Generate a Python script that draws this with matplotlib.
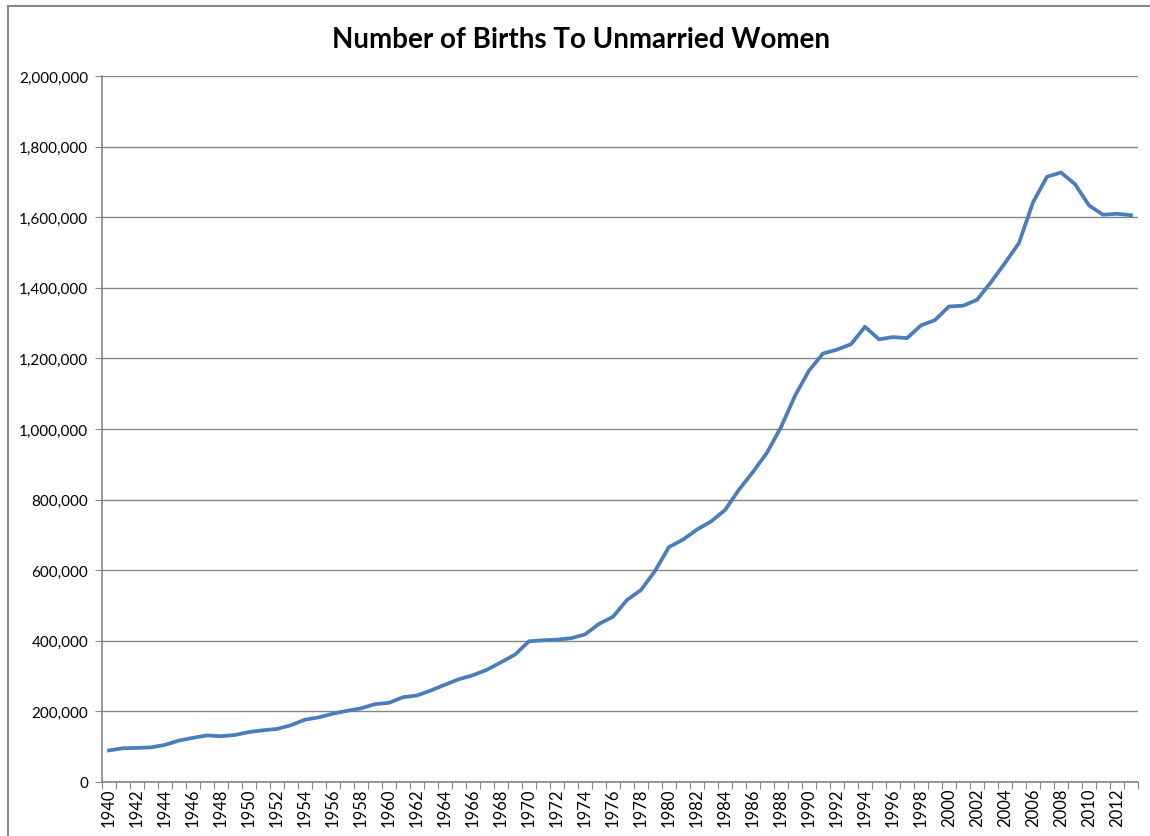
import matplotlib
matplotlib.use("Agg")
import matplotlib.pyplot as plt
from matplotlib.lines import Line2D
from matplotlib.ticker import FuncFormatter, FixedLocator

plt.rcParams["font.family"] = ["Lato", "DejaVu Sans"]

# Births to unmarried women, 1940-2013
years = list(range(1940, 2014))
births = [
    89500, 95700, 96500, 98100, 105200, 117400, 125200, 131900, 129700, 133200,
    141600, 146500, 150300, 160800, 176600, 183300, 193500, 201700, 208700, 220600,
    224300, 240200, 245100, 259400, 275700, 291200, 302400, 318100, 339200, 360800,
    398700, 401400, 403200, 407300, 418100, 447900, 468100, 515700, 543900, 597800,
    665747, 686605, 715227, 737893, 770355, 828174, 878477, 933013, 1005299, 1094169,
    1165384, 1213769, 1224876, 1240172, 1289592, 1253976, 1260306, 1257444, 1293567, 1308560,
    1347043, 1349249, 1365966, 1415995, 1470189, 1527034, 1641946, 1714643, 1726566, 1693658,
    1633471, 1606951, 1609619, 1605643,
]
year_labels = [str(y) if y % 2 == 0 else "" for y in years]

W, H = 1150, 837
fig = plt.figure(figsize=(W / 100, H / 100), dpi=100)
fig.patch.set_facecolor("white")

# chart area border (only top and left edges show in the crop)
bx, by = 7.5 / W, 1 - 6.5 / H
fig.lines.append(Line2D([bx, bx], [0, by], transform=fig.transFigure,
                        color="#868686", linewidth=1.5))
fig.lines.append(Line2D([bx, 1], [by, by], transform=fig.transFigure,
                        color="#868686", linewidth=1.5))

ax = fig.add_axes([102 / W, 1 - 783 / H, (1138 - 102) / W, (783 - 77) / H])

x = list(range(len(years)))
ax.plot(x, births, color="#4A7EBB", linewidth=2.7, solid_joinstyle="round")

ax.set_xlim(-0.5, len(years) - 0.5)
ax.set_ylim(0, 2000000)
ax.set_yticks(range(0, 2000001, 200000))
ax.yaxis.set_major_formatter(FuncFormatter(lambda v, p: f"{int(v):,}"))
ax.grid(axis="y", color="#868686", linewidth=1)
ax.set_axisbelow(True)

# category ticks between years, labels at each year
ax.xaxis.set_major_locator(FixedLocator([i - 0.5 for i in range(len(years) + 1)]))
ax.xaxis.set_major_formatter(FuncFormatter(lambda v, p: ""))
ax.set_xticks(x, minor=True)
ax.set_xticklabels(year_labels, minor=True, rotation=90, fontsize=12)
ax.tick_params(axis="x", which="minor", length=0, pad=4)
ax.tick_params(axis="x", which="major", length=5, color="#868686")
ax.tick_params(axis="y", length=5, color="#868686", labelsize=11, pad=5)

for s in ["top", "right"]:
    ax.spines[s].set_visible(False)
for s in ["left", "bottom"]:
    ax.spines[s].set_color("#868686")
    ax.spines[s].set_linewidth(1.2)

fig.text(581 / W, 1 - 40 / H, "Number of Births To Unmarried Women",
         ha="center", va="center", fontsize=20, fontweight="bold")

fig.savefig("out.png", dpi=100)
